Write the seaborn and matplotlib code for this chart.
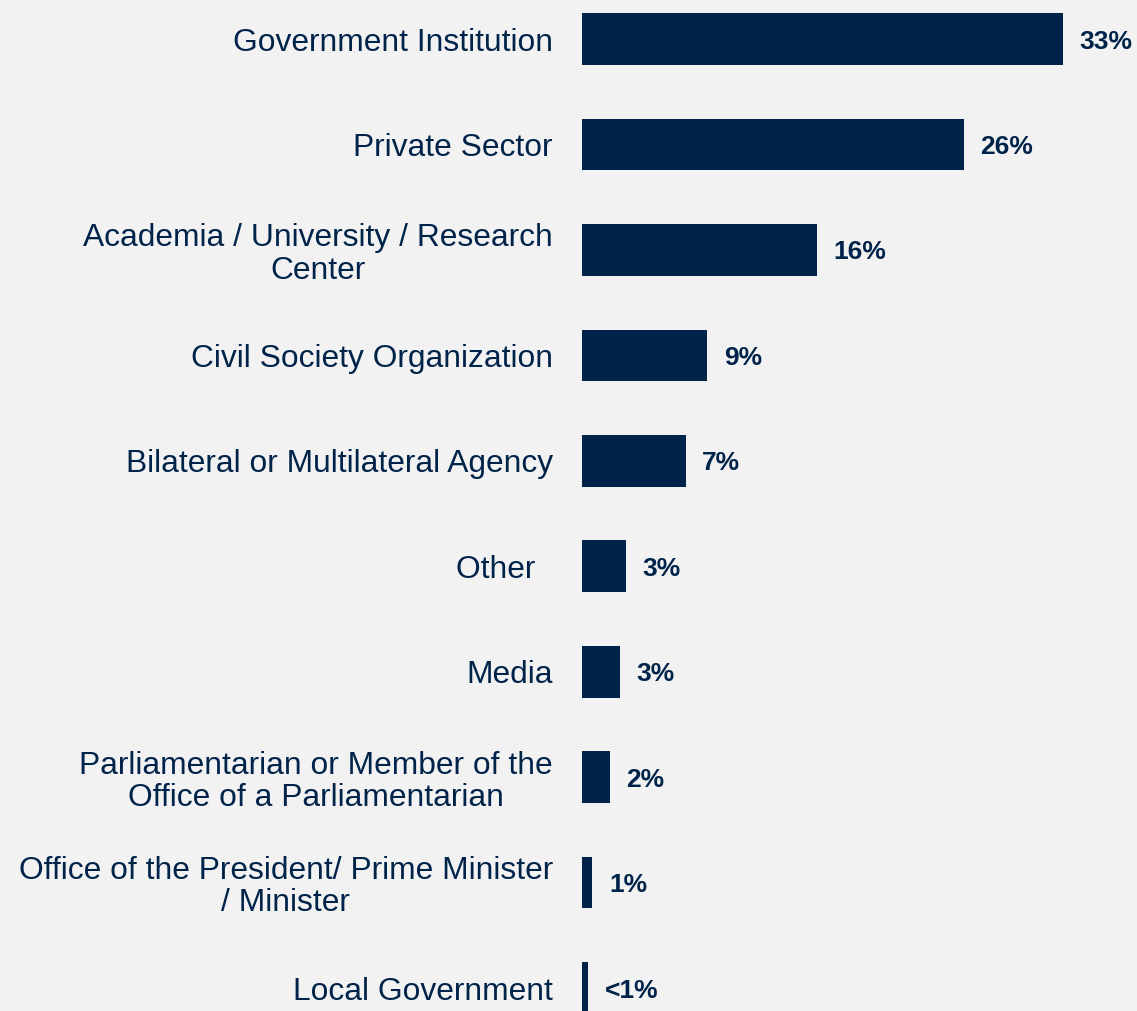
import matplotlib
matplotlib.use("Agg")
import matplotlib.pyplot as plt
import seaborn as sns
import pandas as pd

categories = [
    "Government Institution",
    "Private Sector",
    "Academia / University / Research\nCenter",
    "Civil Society Organization",
    "Bilateral or Multilateral Agency",
    "Other  ",
    "Media",
    "Parliamentarian or Member of the\nOffice of a Parliamentarian",
    "Office of the President/ Prime Minister\n/ Minister",
    "Local Government",
]
shares = [33.0, 26.2, 16.1, 8.6, 7.1, 3.0, 2.6, 1.9, 0.7, 0.4]
value_labels = ["33%", "26%", "16%", "9%", "7%", "3%", "3%", "2%", "1%", "<1%"]

navy = "#00234A"
bg = "#F2F2F2"

sns.set_theme(style="white")
plt.rcParams["font.family"] = ["Liberation Sans", "DejaVu Sans"]

df = pd.DataFrame({"category": categories, "share": shares})

fig = plt.figure(figsize=(11.37, 10.11), dpi=100, facecolor=bg)
ax = fig.add_axes([0.512, 0.0, 0.488, 1.0])
ax.set_facecolor(bg)

sns.barplot(data=df, x="share", y="category", orient="h", color=navy,
            width=0.49, saturation=1, linewidth=0, ax=ax)

ax.bar_label(ax.containers[0], labels=value_labels, padding=12,
             fontsize=19, fontweight="bold", color=navy)
for t in ax.texts:
    t.set_va("center_baseline")

ax.set_xlim(0, 38.1)
ax.set_ylim(9.218, -0.37)
ax.set_xlabel("")
ax.set_ylabel("")
ax.set_xticks([])
ax.tick_params(axis="y", length=0, pad=21, labelsize=22.9, labelcolor=navy)
for t in ax.get_yticklabels():
    t.set_multialignment("center")
    t.set_linespacing(1.1)
sns.despine(ax=ax, left=True, bottom=True)

fig.savefig("out.png", dpi=100, facecolor=bg)
